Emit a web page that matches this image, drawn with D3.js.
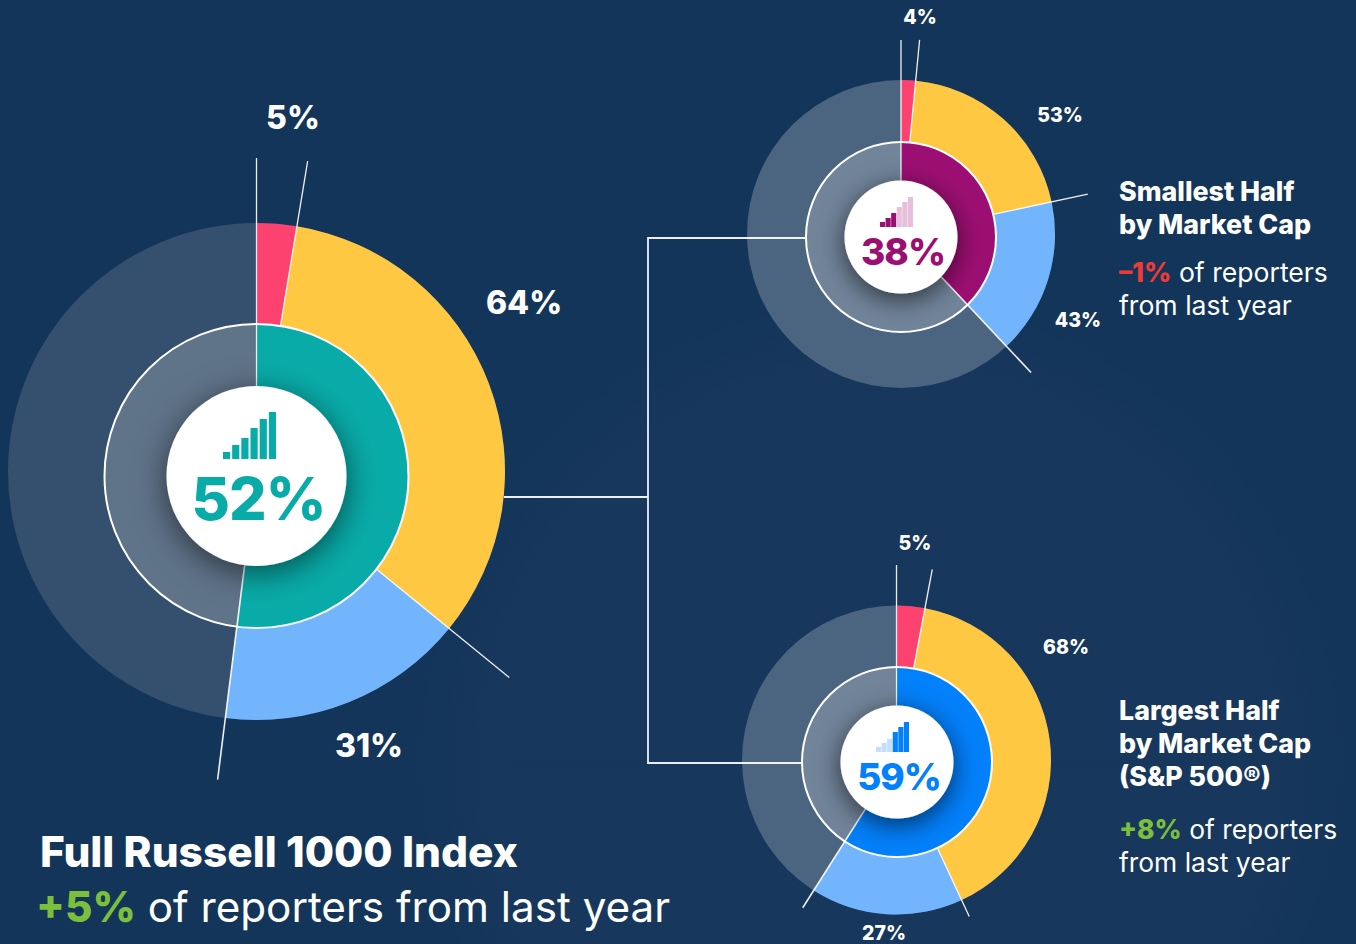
<!DOCTYPE html>
<html><head><meta charset="utf-8">
<script src="https://cdn.jsdelivr.net/npm/d3@7/dist/d3.min.js"></script>
<style>html,body{margin:0;padding:0;background:#14355a;overflow:hidden}svg{display:block}text{font-family:Inter,"Noto Sans",sans-serif}</style>
</head><body><svg id="c" width="1356" height="944"></svg>
<script>
// Data
const segmentNames = ["Pink", "Yellow", "Light blue"];
const reporterShare = [52, 38, 59];
const fullSegments = [5, 64, 31];
const smallSegments = [4, 53, 43];
const largeSegments = [5, 68, 27];
const fullIconLevels = [7, 14, 21, 31, 40, 47];
const smallIconLevels = [5, 9, 14, 20, 25, 30];
const largeIconLevels = [5, 9, 13, 20, 25, 30];

const svg = d3.select("#c");
const defs = svg.append("defs");
function shadow(id,dy,std,op){
  const f = defs.append("filter").attr("id",id).attr("x","-60%").attr("y","-60%").attr("width","220%").attr("height","220%");
  f.append("feDropShadow").attr("dx",0).attr("dy",dy).attr("stdDeviation",std).attr("flood-color","#000").attr("flood-opacity",op);
}
shadow("sh",7,16,.55);
shadow("shS",6,13,.62);
const rg = defs.append("radialGradient").attr("id","globe");
rg.append("stop").attr("offset","0%").attr("stop-color","#fff").attr("stop-opacity",.012);
rg.append("stop").attr("offset","85%").attr("stop-color","#fff").attr("stop-opacity",.012);
rg.append("stop").attr("offset","100%").attr("stop-color","#fff").attr("stop-opacity",0);

svg.append("rect").attr("width",1356).attr("height",944).attr("fill","#14355a");
svg.append("circle").attr("cx",880).attr("cy",760).attr("r",470).attr("fill","url(#globe)");

const charts = [
 {seg:fullSegments, share:reporterShare[0], icon:fullIconLevels, color:"#09aba8", iconDim:null, filter:"sh",
  outer:{x:256.5,y:471.5,r:248.5,fill:"#34506e"}, innerC:{x:256.5,y:476,r:152,rh:90,fill:"#5f7389"},
  ticks:[313.5,314.5,326,310.5], pct:{size:59,y:520,dx:2}, ibox:{x0:223,w:53,bottom:459}},
 {seg:smallSegments, share:reporterShare[1], icon:smallIconLevels, color:"#9c0f72", iconDim:"#e6c0da", filter:"shS",
  outer:{x:901,y:234,r:154,fill:"#4b6580"}, innerC:{x:901,y:237,r:95,rh:56.5,fill:"#71849a"},
  ticks:[194,195,191,190], pct:{size:37,y:265,dx:2}, ibox:{x0:880,w:33,bottom:227}, dim:[0,0,0,1,1,1]},
 {seg:largeSegments, share:reporterShare[2], icon:largeIconLevels, color:"#0380fb", iconDim:"#c3dffb", filter:"shS",
  outer:{x:896.5,y:760,r:154.5,fill:"#4b6580"}, innerC:{x:897,y:762,r:95,rh:56.5,fill:"#71849a"},
  ticks:[195,194,172.5,175], pct:{size:37,y:790,dx:2}, ibox:{x0:876,w:33,bottom:752}, dim:[1,1,1,0,0,0]}
];
const segColors = ["#fd426f","#ffc843","#72b5fd"];
const tau = 2*Math.PI;

charts.forEach((c,ci)=>{
  const end = c.share/100*tau;
  const pie = d3.pie().sort(null).startAngle(0).endAngle(end);
  const ox=c.outer.x, oy=c.outer.y, cx=c.innerC.x, cy=c.innerC.y;
  defs.append("clipPath").attr("id","ci"+ci).append("circle").attr("cx",cx).attr("cy",cy).attr("r",c.innerC.r);

  const o = svg.append("g").attr("transform",`translate(${ox},${oy})`);
  o.append("circle").attr("r",c.outer.r).attr("fill",c.outer.fill);
  o.selectAll("path").data(pie(c.seg)).join("path")
   .attr("d",d3.arc().innerRadius(c.innerC.r-12).outerRadius(c.outer.r)).attr("fill",(d,i)=>segColors[i]);

  svg.append("circle").attr("cx",cx).attr("cy",cy).attr("r",c.innerC.r).attr("fill",c.innerC.fill);
  svg.append("g").attr("clip-path",`url(#ci${ci})`).append("path").attr("transform",`translate(${ox},${oy})`)
   .attr("d",d3.arc().innerRadius(0).outerRadius(c.innerC.r+20)({startAngle:0,endAngle:end})).attr("fill",c.color);

  // leaders are rays from the outer disc's centre, starting where they meet the inner circles
  const edges = [0, c.seg[0], c.seg[0]+c.seg[1], 100].map(v=>v/100*end);
  const dX=cx-ox, dY=cy-oy;
  const hit=(a,R)=>{const ux=Math.sin(a),uy=-Math.cos(a),b=ux*dX+uy*dY;return b+Math.sqrt(b*b-(dX*dX+dY*dY)+R*R);};
  const startR=(a,i)=>hit(a,(i===0||i===3)?c.innerC.rh:c.innerC.r);
  const g = svg.append("g").attr("transform",`translate(${ox},${oy})`);
  g.selectAll("line").data(edges).join("line")
   .attr("x1",(a,i)=>Math.sin(a)*startR(a,i)).attr("y1",(a,i)=>-Math.cos(a)*startR(a,i))
   .attr("x2",(a,i)=>Math.sin(a)*c.ticks[i]).attr("y2",(a,i)=>-Math.cos(a)*c.ticks[i])
   .attr("stroke","#fff").attr("stroke-opacity",.92).attr("stroke-width",(a,i)=>i===3?1.6:1.3);
  svg.append("g").attr("clip-path",`url(#ci${ci})`).append("circle").attr("cx",cx).attr("cy",cy)
   .attr("r",c.innerC.rh).attr("fill","#fff").attr("filter",`url(#${c.filter})`);
  svg.append("circle").attr("cx",cx).attr("cy",cy).attr("r",c.innerC.r).attr("fill","none").attr("stroke","#fff").attr("stroke-width",2);

  const x = d3.scaleBand().domain(d3.range(c.icon.length)).range([c.ibox.x0,c.ibox.x0+c.ibox.w]).paddingInner(c.filter==="sh"?.22:.08);
  const h = d3.scaleLinear().domain([0,1]).range([0,1]);
  svg.append("g").selectAll("rect").data(c.icon).join("rect")
   .attr("x",(d,i)=>x(i)).attr("width",x.bandwidth())
   .attr("y",d=>c.ibox.bottom-h(d)).attr("height",d=>h(d))
   .attr("fill",(d,i)=>c.dim&&c.dim[i]?c.iconDim:c.color);

  svg.append("text").attr("x",cx+c.pct.dx).attr("y",c.pct.y).attr("text-anchor","middle")
   .attr("font-size",c.pct.size).attr("font-weight",800).attr("letter-spacing",-1).attr("fill",c.color).text(c.share+"%");
});

const conn = d3.path();
conn.moveTo(504,497); conn.lineTo(648,497);
conn.moveTo(806,238); conn.lineTo(648,238); conn.lineTo(648,763); conn.lineTo(802,763);
svg.append("path").attr("d",conn.toString()).attr("fill","none").attr("stroke","#fff").attr("stroke-opacity",.92).attr("stroke-width",1.8);

const labelSpots = [
 [fullSegments,[[293,129],[524,314],[369,757]],32],
 [smallSegments,[[920,24],[1060,122],[1078,327]],19.5],
 [largeSegments,[[915,550],[1066,654],[884,940]],19.5]
];
labelSpots.forEach(([vals,pos,size])=>{
  svg.append("g").selectAll("text").data(vals).join("text")
   .attr("x",(d,i)=>pos[i][0]).attr("y",(d,i)=>pos[i][1]).attr("text-anchor","middle")
   .attr("font-size",size).attr("font-weight",800).attr("fill","#fff").text(d=>d+"%");
});

function cap(x,y,size,weight,parts){
  const t = svg.append("text").attr("x",x).attr("y",y).attr("font-size",size).attr("font-weight",weight).attr("fill","#fff");
  parts.forEach(p=>t.append("tspan").attr("fill",p.c||"#fff").attr("font-weight",p.w||weight).text(p.t));
}
const G="#7bbf3c", R="#ee3b36";
cap(40,866.5,42.4,800,[{t:"Full Russell 1000 Index"}]);
cap(36,922,42.2,400,[{t:"+5%",c:G,w:800},{t:" of reporters from last year"}]);
cap(1119,201,26.8,800,[{t:"Smallest Half"}]);
cap(1119,234,26.8,800,[{t:"by Market Cap"}]);
cap(1119,282,26.6,400,[{t:"–1%",c:R,w:800},{t:" of reporters"}]);
cap(1119,315,26.6,400,[{t:"from last year"}]);
cap(1119,720,26.8,800,[{t:"Largest Half"}]);
cap(1119,753,26.8,800,[{t:"by Market Cap"}]);
cap(1119,786,26.8,800,[{t:"(S&P 500®)"}]);
cap(1119,839,26.4,400,[{t:"+8%",c:G,w:800},{t:" of reporters"}]);
cap(1119,872,26.4,400,[{t:"from last year"}]);
</script></body></html>
